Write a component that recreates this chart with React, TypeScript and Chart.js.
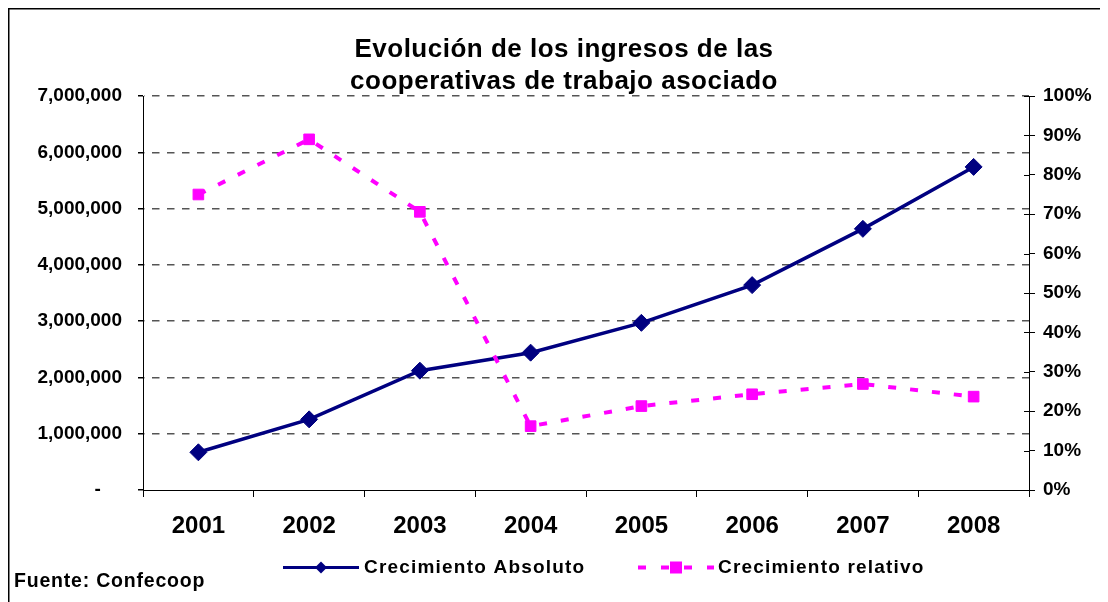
import { useEffect, useRef } from 'react';
import { Chart, registerables } from 'chart.js';

Chart.register(...registerables);

const titleLines = ['Evolución de los ingresos de las', 'cooperativas de trabajo asociado'];
const years = ['2001', '2002', '2003', '2004', '2005', '2006', '2007', '2008'];
const absoluto = [670000, 1255000, 2120000, 2440000, 2970000, 3640000, 4640000, 5740000];
const relativo = [75, 89, 70.6, 16.2, 21.3, 24.3, 26.9, 23.7];
const seriesNames = ['Crecimiento Absoluto', 'Crecimiento relativo'];
const sourceNote = 'Fuente: Confecoop';
const leftMax = 7000000;
const leftStep = 1000000;
const rightMax = 100;
const rightStep = 10;

const FAMILY = '"Liberation Sans", Arial, Helvetica, sans-serif';
const NAVY = '#000080';
const MAGENTA = '#FF00FF';

const decor = {
  id: 'decor',
  afterDraw(chart: any) {
    const ctx = chart.ctx as CanvasRenderingContext2D;
    ctx.save();
    // outer frame (left + top visible)
    ctx.strokeStyle = '#000';
    ctx.lineWidth = 1.5;
    ctx.setLineDash([]);
    ctx.beginPath();
    ctx.moveTo(0.75, chart.height);
    ctx.lineTo(0.75, 0.75);
    ctx.lineTo(chart.width, 0.75);
    ctx.stroke();

    // inner half of the right-axis cross ticks
    const y1 = chart.scales.y1;
    ctx.lineWidth = 1;
    ctx.strokeStyle = '#000';
    ctx.beginPath();
    y1.ticks.forEach((t: any) => {
      const py = Math.round(y1.getPixelForValue(t.value)) + 0.5;
      ctx.moveTo(y1.left - 5, py);
      ctx.lineTo(y1.left, py);
    });
    ctx.stroke();

    // title
    ctx.fillStyle = '#000';
    ctx.textAlign = 'center';
    ctx.textBaseline = 'alphabetic';
    ctx.font = `bold 26px ${FAMILY}`;
    (ctx as any).letterSpacing = '0.5px';
    titleLines.forEach((line, i) => ctx.fillText(line, 556, 48.5 + i * 32));

    // legend
    const ds = chart.data.datasets;
    ctx.textAlign = 'left';
    ctx.font = `bold 19px ${FAMILY}`;
    (ctx as any).letterSpacing = '1.2px';
    const ly = 559.5;
    // series 1
    ctx.strokeStyle = ds[0].borderColor;
    ctx.lineWidth = 3;
    ctx.beginPath();
    ctx.moveTo(275, ly);
    ctx.lineTo(351, ly);
    ctx.stroke();
    ctx.fillStyle = ds[0].backgroundColor;
    ctx.beginPath();
    ctx.moveTo(313 - 6, ly);
    ctx.lineTo(313, ly - 6);
    ctx.lineTo(313 + 6, ly);
    ctx.lineTo(313, ly + 6);
    ctx.closePath();
    ctx.fill();
    ctx.fillStyle = '#000';
    ctx.fillText(ds[0].label, 356, 565.3);
    // series 2
    ctx.strokeStyle = ds[1].borderColor;
    ctx.lineWidth = 4;
    ctx.setLineDash([8, 15]);
    ctx.beginPath();
    ctx.moveTo(630, ly);
    ctx.lineTo(706, ly);
    ctx.stroke();
    ctx.setLineDash([]);
    ctx.fillStyle = ds[1].backgroundColor;
    ctx.fillRect(668 - 6, ly - 6, 12, 12);
    ctx.fillStyle = '#000';
    ctx.fillText(ds[1].label, 710, 565.3);

    // source note
    ctx.font = `bold 19.5px ${FAMILY}`;
    (ctx as any).letterSpacing = '0.8px';
    ctx.fillText(sourceNote, 6, 579);
    ctx.restore();
  },
};

export default function App() {
  const ref = useRef<HTMLCanvasElement | null>(null);
  useEffect(() => {
    document.documentElement.style.overflow = 'hidden';
    document.body.style.overflow = 'hidden';
    if (!ref.current) return;
    const chart = new Chart(ref.current, {
      type: 'line',
      data: {
        labels: years,
        datasets: [
          {
            label: seriesNames[0],
            data: absoluto,
            yAxisID: 'y',
            borderColor: NAVY,
            backgroundColor: NAVY,
            borderWidth: 3.5,
            pointStyle: 'rectRot',
            pointRadius: 8.5,
            pointBorderWidth: 1,
            pointBorderColor: NAVY,
            pointBackgroundColor: NAVY,
            tension: 0,
            order: 1,
          },
          {
            label: seriesNames[1],
            data: relativo,
            yAxisID: 'y1',
            borderColor: MAGENTA,
            backgroundColor: MAGENTA,
            borderWidth: 4,
            borderDash: [8, 14],
            pointStyle: 'rect',
            pointRadius: 7.5,
            pointBorderWidth: 1,
            pointBorderColor: MAGENTA,
            pointBackgroundColor: MAGENTA,
            tension: 0,
            order: 0,
          },
        ],
      },
      options: {
        responsive: false,
        animation: false,
        layout: { padding: { top: 88, left: 0, right: 0, bottom: 0 } },
        plugins: {
          legend: { display: false },
          title: { display: false },
          tooltip: { enabled: false },
        },
        scales: {
          x: {
            offset: true,
            grid: { offset: true, drawOnChartArea: false, drawTicks: true, tickLength: 7, color: '#000' },
            border: { display: true, color: '#000', width: 1 },
            ticks: {
              color: '#000',
              padding: 15,
              maxRotation: 0,
              font: { family: FAMILY, size: 24, weight: 'bold' },
            },
            afterFit: (s: any) => {
              s.height = 112;
            },
          },
          y: {
            position: 'left',
            min: 0,
            max: leftMax,
            ticks: {
              stepSize: leftStep,
              color: '#000',
              padding: 16,
              font: { family: FAMILY, size: 19, weight: 'bold' },
              callback: (v: any) => (Number(v) === 0 ? '-    ' : Number(v).toLocaleString('en-US')),
            },
            grid: {
              color: (c: any) => (c.tick && c.tick.value === 0 ? 'rgba(0,0,0,0)' : '#555'),
              tickColor: '#000',
              tickLength: 5,
              lineWidth: 1.5,
            },
            border: { display: true, color: '#000', width: 1, dash: [7.5, 7.5], dashOffset: -8 },
            afterFit: (s: any) => {
              s.width = 135;
            },
          },
          y1: {
            position: 'right',
            min: 0,
            max: rightMax,
            ticks: {
              stepSize: rightStep,
              color: '#000',
              padding: 8,
              font: { family: FAMILY, size: 19, weight: 'bold' },
              callback: (v: any) => `${v}%`,
            },
            grid: { drawOnChartArea: false, tickLength: 6, color: '#000' },
            border: { display: true, color: '#000', width: 1 },
            afterFit: (s: any) => {
              s.width = 79;
            },
          },
        },
      } as any,
      plugins: [decor],
    });
    return () => chart.destroy();
  }, []);
  return <canvas ref={ref} width={1100} height={594} style={{ display: 'block' }} />;
}
